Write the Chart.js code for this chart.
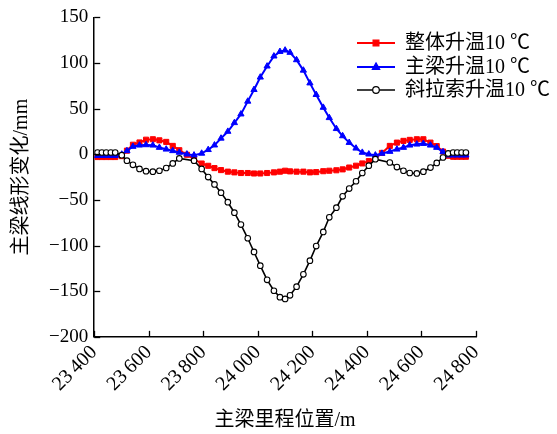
<!DOCTYPE html>
<html>
<head>
<meta charset="utf-8">
<script src="https://cdn.jsdelivr.net/npm/chart.js@4/dist/chart.umd.min.js"></script>
<style>
  html, body { margin: 0; padding: 0; background: #fff; }
  #wrap { width: 557px; height: 434px; position: relative; }
</style>
</head>
<body>
<div id="wrap"><canvas id="c"></canvas></div>
<script>
// Stations along the main girder (m)
const stations = [23412, 23428, 23444, 23461, 23477, 23501, 23520, 23542, 23566, 23590,
  23615, 23639, 23664, 23688, 23712, 23740, 23766, 23794, 23818, 23841,
  23865, 23890, 23914, 23938, 23963, 23986, 24009, 24034, 24059, 24081,
  24100, 24118, 24142, 24167, 24191, 24214, 24240, 24262, 24288, 24311,
  24335, 24360, 24383, 24407, 24431, 24455, 24484, 24510, 24534, 24557,
  24583, 24607, 24633, 24656, 24679, 24698, 24716, 24731, 24747, 24763];

// 整体升温10 ℃
const wholeRise = [-3, -3, -3, -3, -3, -2, 4, 10.5, 13, 16,
  16.5, 15.3, 13.6, 9.2, 4.5, -0.5, -5.3, -10.1, -12.6, -15.1,
  -17.3, -19, -19.8, -20.5, -20.5, -21, -21, -20.5, -19.8, -19,
  -18, -18.7, -19, -19, -19.8, -19.5, -18.5, -18, -17.5, -16.5,
  -14.5, -12.5, -10, -7.5, -4.5, 1.5, 9.2, 12.8, 14.7, 15.8,
  16.5, 16.5, 12.8, 9, 3, -1.6, -2.7, -2.7, -2.7, -2.7];

// 主梁升温10 ℃
const girderRise = [-1.5, -1.5, -1.5, -1.5, -1.5, 0, 3.8, 8.5, 9.9, 10.3,
  9.9, 7.4, 5.5, 3.8, 2, 0.1, -1, 1, 5, 10,
  17.5, 25, 34.5, 44, 58, 70.8, 84.4, 96.5, 107.5, 112.5,
  114, 111.5, 103.4, 92, 78, 65.3, 51.3, 40, 28, 20.1,
  12.8, 6.6, 2, 0.1, -1, 0.9, 3, 5.5, 7.4, 9.9,
  11, 11.7, 9.9, 7.4, 2.7, -1, -1, -1, -1, -1];

// 斜拉索升温10 ℃
const cableRise = [2, 2, 2, 2, 2, -1, -7, -11.5, -16, -18.5,
  -19, -18, -15, -10, -4.5, null, -7, -16, -25, -33,
  -42, -52.5, -64, -77, -92, -107, -122, -137.5, -149.5, -156.5,
  -158.5, -154.5, -145, -131.5, -116.5, -100.5, -85, -69, -58.5, -46,
  -37.5, -29.5, -20.5, -12.5, -5.3, null, -9, -14, -18, -20.5,
  -21, -19, -14.5, -9.5, -3.5, 1, 2, 2, 2, 2];

const seriesNames = ['整体升温10 ℃', '主梁升温10 ℃', '斜拉索升温10 ℃'];
const xTicks = [23400, 23600, 23800, 24000, 24200, 24400, 24600, 24800];
const yTicks = [-200, -150, -100, -50, 0, 50, 100, 150];

const FONT = '"Liberation Serif", "Times New Roman", "Noto Sans CJK SC", serif';

function pts(arr) { return stations.map((x, i) => ({ x: x, y: arr[i] })); }

const inwardTicks = {
  id: 'inwardTicks',
  afterDraw(chart) {
    const ctx = chart.ctx;
    const xs = chart.scales.x, ys = chart.scales.y;
    ctx.save();
    ctx.strokeStyle = '#000';
    ctx.lineWidth = 1.3;
    xs.ticks.forEach((t, i) => {
      const px = Math.round(xs.getPixelForTick(i)) + 0.5;
      ctx.beginPath(); ctx.moveTo(px, xs.top); ctx.lineTo(px, xs.top - 6); ctx.stroke();
    });
    ys.ticks.forEach((t, i) => {
      const py = Math.round(ys.getPixelForTick(i)) + 0.5;
      ctx.beginPath(); ctx.moveTo(ys.right, py); ctx.lineTo(ys.right + 6, py); ctx.stroke();
    });
    ctx.restore();
  }
};

function drawMarker(ctx, style, cx, cy, r, fill, stroke) {
  ctx.save();
  ctx.fillStyle = fill; ctx.strokeStyle = stroke; ctx.lineWidth = 1.2;
  ctx.beginPath();
  if (style === 'rect') {
    const s = r * Math.SQRT1_2;
    ctx.rect(cx - s, cy - s, 2 * s, 2 * s);
  } else if (style === 'triangle') {
    ctx.moveTo(cx, cy - r);
    ctx.lineTo(cx + r * 0.9, cy + r * 0.6);
    ctx.lineTo(cx - r * 0.9, cy + r * 0.6);
    ctx.closePath();
  } else {
    ctx.arc(cx, cy, r, 0, Math.PI * 2);
  }
  ctx.fill(); ctx.stroke();
  ctx.restore();
}

const customLegend = {
  id: 'customLegend',
  afterDraw(chart) {
    const ctx = chart.ctx;
    const rows = [43, 67, 90];
    ctx.save();
    chart.data.datasets.forEach((ds, i) => {
      const y = rows[i];
      ctx.strokeStyle = ds.borderColor;
      ctx.lineWidth = ds.borderWidth;
      ctx.beginPath(); ctx.moveTo(357, y); ctx.lineTo(395, y); ctx.stroke();
      drawMarker(ctx, ds.pointStyle, 376, y, ds.pointRadius + 0.5, ds.pointBackgroundColor, ds.pointBorderColor);
      ctx.fillStyle = '#000';
      ctx.font = '20px ' + FONT;
      ctx.textBaseline = 'middle';
      ctx.textAlign = 'left';
      ctx.fillText(ds.label, 405, y + 1);
    });
    ctx.restore();
  }
};

new Chart(document.getElementById('c'), {
  type: 'line',
  data: {
    datasets: [
      { label: seriesNames[0], data: pts(wholeRise), borderColor: '#ff0000', borderWidth: 2,
        pointStyle: 'rect', pointRadius: 3.6, pointBackgroundColor: '#ff0000', pointBorderColor: '#ff0000',
        pointBorderWidth: 1, tension: 0, order: 3 },
      { label: seriesNames[1], data: pts(girderRise), borderColor: '#0000ff', borderWidth: 2,
        pointStyle: 'triangle', pointRadius: 3.6, pointBackgroundColor: '#0000ff', pointBorderColor: '#0000ff',
        pointBorderWidth: 1, tension: 0, order: 2 },
      { label: seriesNames[2], data: pts(cableRise), borderColor: '#000000', borderWidth: 1.6,
        pointStyle: 'circle', pointRadius: 2.8, pointBackgroundColor: '#ffffff', pointBorderColor: '#000000',
        pointBorderWidth: 1.1, tension: 0, spanGaps: true, order: 1 }
    ]
  },
  options: {
    responsive: true,
    maintainAspectRatio: false,
    animation: false,
    devicePixelRatio: 1,
    layout: { padding: { left: 10, right: 81, top: 12, bottom: 1 } },
    plugins: { legend: { display: false }, tooltip: { enabled: false } },
    scales: {
      x: {
        type: 'linear', min: 23400, max: 24800,
        afterBuildTicks: (s) => { s.ticks = xTicks.map(v => ({ value: v })); },
        grid: { display: false, drawTicks: false },
        border: { display: true, color: '#000', width: 1.5 },
        ticks: {
          autoSkip: false, maxRotation: 45, minRotation: 45, padding: 4, color: '#000',
          font: { family: FONT, size: 20 },
          callback: (v) => { const s = String(v); return s.slice(0, 2) + '\u2009' + s.slice(2); }
        },
        title: { display: true, text: '主梁里程位置/m', color: '#000',
          font: { family: FONT, size: 20 }, padding: { top: 9, bottom: 0 } }
      },
      y: {
        type: 'linear', min: -200, max: 150,
        afterBuildTicks: (s) => { s.ticks = yTicks.map(v => ({ value: v })); },
        grid: { display: false, drawTicks: false },
        border: { display: true, color: '#000', width: 1.5 },
        ticks: {
          padding: 6, color: '#000',
          font: { family: FONT, size: 19 },
          callback: (v) => v < 0 ? '\u2212' + Math.abs(v) : String(v)
        },
        title: { display: true, text: '主梁线形变化/mm', color: '#000',
          font: { family: FONT, size: 20 }, padding: { top: 0, bottom: 9 } }
      }
    }
  },
  plugins: [inwardTicks, customLegend]
});
</script>
</body>
</html>
